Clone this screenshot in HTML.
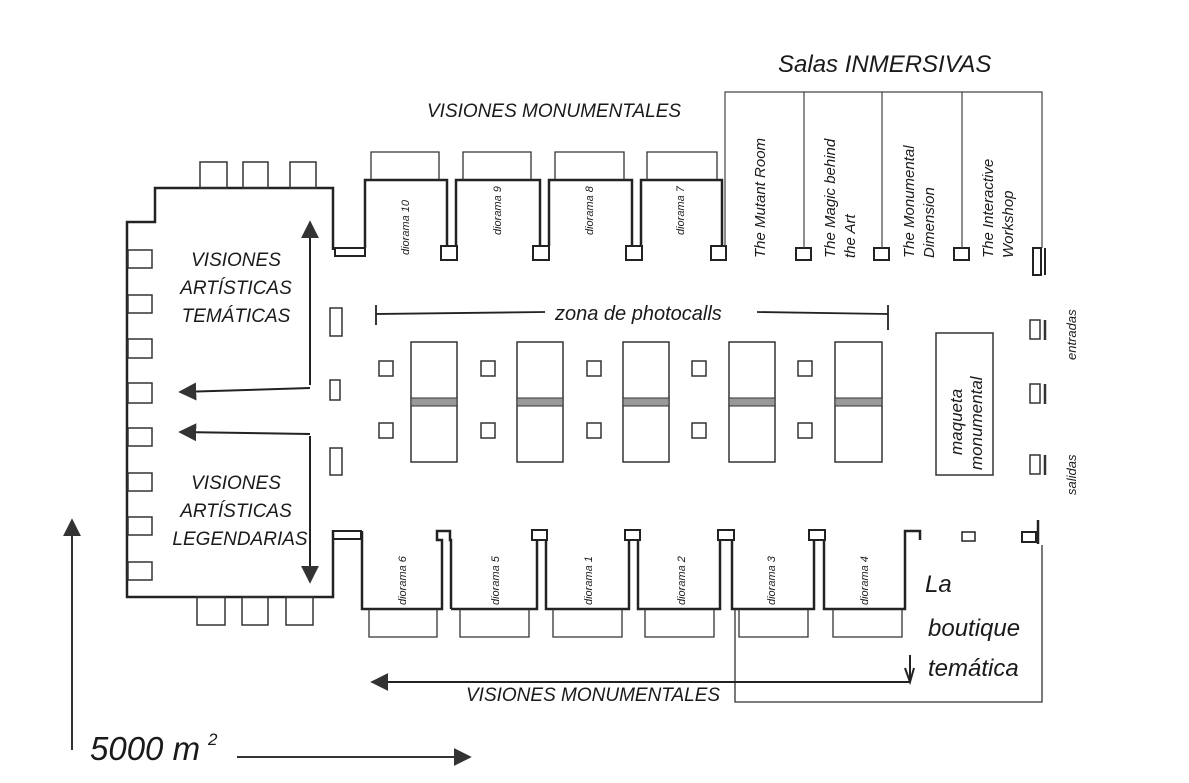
<!DOCTYPE html>
<html><head><meta charset="utf-8"><style>
html,body{margin:0;padding:0;background:#fff;}
svg{display:block;}
text{font-family:"Liberation Sans",sans-serif;font-style:italic;fill:#1a1a1a;}
</style></head><body>
<svg width="1189" height="783" viewBox="0 0 1189 783" xmlns="http://www.w3.org/2000/svg">
<defs>
<marker id="ah" viewBox="0 0 10 10" refX="9" refY="5" markerWidth="9" markerHeight="9" orient="auto-start-reverse"><path d="M0,0 L10,5 L0,10 Z" fill="#333"/></marker>
</defs>
<g fill="none" stroke="#222" stroke-width="2.5">
<path d="M333,250 V188 H155 V222 H127 V597 H333 V530"/>
</g>
<g fill="none" stroke="#333" stroke-width="1.5">
<rect x="200" y="162" width="27" height="26"/><rect x="243" y="162" width="25" height="26"/><rect x="290" y="162" width="26" height="26"/>
<rect x="197" y="597" width="28" height="28"/><rect x="242" y="597" width="26" height="28"/><rect x="286" y="597" width="27" height="28"/>
<rect x="128" y="250" width="24" height="18"/><rect x="128" y="295" width="24" height="18"/><rect x="128" y="339" width="24" height="19"/><rect x="128" y="383" width="24" height="20"/><rect x="128" y="428" width="24" height="18"/><rect x="128" y="473" width="24" height="18"/><rect x="128" y="517" width="24" height="18"/><rect x="128" y="562" width="24" height="18"/>
<rect x="330" y="308" width="12" height="28"/><rect x="330" y="380" width="10" height="20"/><rect x="330" y="448" width="12" height="27"/>
</g>
<g fill="none" stroke="#222" stroke-width="2.5">
<rect x="335" y="248" width="30" height="8" stroke-width="2"/>
<path d="M365,248 V180 H447 V246"/>
<path d="M456,246 V180 H540 V246"/>
<path d="M549,246 V180 H632 V246"/>
<path d="M641,246 V180 H722 V246"/>
</g>
<g fill="none" stroke="#333" stroke-width="1.3">
<path d="M371,180 V152 H439 V180"/><path d="M463,180 V152 H531 V180"/><path d="M555,180 V152 H624 V180"/><path d="M647,180 V152 H717 V180"/>
</g>
<g fill="none" stroke="#222" stroke-width="2">
<rect x="441" y="246" width="16" height="14"/><rect x="533" y="246" width="16" height="14"/><rect x="626" y="246" width="16" height="14"/><rect x="711" y="246" width="15" height="14"/>
<rect x="796" y="248" width="15" height="12"/><rect x="874" y="248" width="15" height="12"/><rect x="954" y="248" width="15" height="12"/>
<rect x="1033" y="248" width="8" height="27"/><line x1="1045" y1="248" x2="1045" y2="275"/>
</g>
<g fill="none" stroke="#444" stroke-width="1.2">
<path d="M725,246 V92 H1042 V248"/>
<line x1="804" y1="92" x2="804" y2="248"/><line x1="882" y1="92" x2="882" y2="248"/><line x1="962" y1="92" x2="962" y2="248"/>
</g>
<g font-size="15">
<text transform="translate(765,258) rotate(-90)">The Mutant Room</text>
<text transform="translate(835,258) rotate(-90)">The Magic behind</text>
<text transform="translate(855,258) rotate(-90)">the Art</text>
<text transform="translate(914,258) rotate(-90)">The Monumental</text>
<text transform="translate(934,258) rotate(-90)">Dimension</text>
<text transform="translate(993,258) rotate(-90)">The Interactive</text>
<text transform="translate(1013,258) rotate(-90)">Workshop</text>
</g>
<text x="778" y="72" font-size="24">Salas INMERSIVAS</text>
<text x="427" y="117" font-size="19">VISIONES MONUMENTALES</text>
<g font-size="11">
<text transform="translate(409,255) rotate(-90)">diorama 10</text>
<text transform="translate(501,235) rotate(-90)">diorama 9</text>
<text transform="translate(593,235) rotate(-90)">diorama 8</text>
<text transform="translate(684,235) rotate(-90)">diorama 7</text>
<text transform="translate(406,605) rotate(-90)">diorama 6</text>
<text transform="translate(499,605) rotate(-90)">diorama 5</text>
<text transform="translate(592,605) rotate(-90)">diorama 1</text>
<text transform="translate(685,605) rotate(-90)">diorama 2</text>
<text transform="translate(775,605) rotate(-90)">diorama 3</text>
<text transform="translate(868,605) rotate(-90)">diorama 4</text>
</g>
<g stroke="#222" stroke-width="1.8" fill="none">
<line x1="376" y1="314" x2="545" y2="312"/><line x1="376" y1="305" x2="376" y2="325"/>
<line x1="757" y1="312" x2="888" y2="314"/><line x1="888" y1="305" x2="888" y2="330"/>
</g>
<text x="555" y="320" font-size="20">zona de photocalls</text>
<g fill="none" stroke="#333" stroke-width="1.5">
<rect x="411" y="342" width="46" height="120"/><rect x="517" y="342" width="46" height="120"/><rect x="623" y="342" width="46" height="120"/><rect x="729" y="342" width="46" height="120"/><rect x="835" y="342" width="47" height="120"/>
<rect x="379" y="361" width="14" height="15"/><rect x="379" y="423" width="14" height="15"/>
<rect x="481" y="361" width="14" height="15"/><rect x="481" y="423" width="14" height="15"/>
<rect x="587" y="361" width="14" height="15"/><rect x="587" y="423" width="14" height="15"/>
<rect x="692" y="361" width="14" height="15"/><rect x="692" y="423" width="14" height="15"/>
<rect x="798" y="361" width="14" height="15"/><rect x="798" y="423" width="14" height="15"/>
</g>
<g fill="#999" stroke="#333" stroke-width="1">
<rect x="411" y="398" width="46" height="8"/><rect x="517" y="398" width="46" height="8"/><rect x="623" y="398" width="46" height="8"/><rect x="729" y="398" width="46" height="8"/><rect x="835" y="398" width="47" height="8"/>
</g>
<rect x="936" y="333" width="57" height="142" fill="none" stroke="#333" stroke-width="1.5"/>
<text transform="translate(962,455) rotate(-90)" font-size="17">maqueta</text>
<text transform="translate(982,470) rotate(-90)" font-size="17">monumental</text>
<g fill="none" stroke="#333" stroke-width="1.5">
<rect x="1030" y="320" width="10" height="19"/><line x1="1045" y1="320" x2="1045" y2="340" stroke-width="2.5"/>
<rect x="1030" y="384" width="10" height="19"/><line x1="1045" y1="384" x2="1045" y2="404" stroke-width="2.5"/>
<rect x="1030" y="455" width="10" height="19"/><line x1="1045" y1="455" x2="1045" y2="475" stroke-width="2.5"/>
</g>
<text transform="translate(1076,360) rotate(-90)" font-size="13">entradas</text>
<text transform="translate(1076,495) rotate(-90)" font-size="13">salidas</text>
<g fill="none" stroke="#222" stroke-width="2.5">
<rect x="333" y="531" width="28" height="8" stroke-width="2"/>
<path d="M362,531 V609 H442 V540 H437 V531 H450 V540 H451 V609"/>
<path d="M451,609 H537 V540"/>
<path d="M546,540 V609 H629 V540"/>
<path d="M638,540 V609 H720 V540"/>
<path d="M732,540 V609 H814 V540"/>
<path d="M824,540 V609 H905 V531 H920 V540"/>
<rect x="532" y="530" width="15" height="10" stroke-width="2"/><rect x="625" y="530" width="15" height="10" stroke-width="2"/><rect x="718" y="530" width="16" height="10" stroke-width="2"/><rect x="809" y="530" width="16" height="10" stroke-width="2"/>
<rect x="962" y="532" width="13" height="9" stroke-width="1.5"/><rect x="1022" y="532" width="14" height="10" stroke-width="2"/>
<line x1="1038" y1="520" x2="1038" y2="544"/>
</g>
<g fill="none" stroke="#333" stroke-width="1.3">
<path d="M369,609 V637 H437 V609"/><path d="M460,609 V637 H529 V609"/><path d="M553,609 V637 H622 V609"/><path d="M645,609 V637 H714 V609"/><path d="M739,609 V637 H808 V609"/><path d="M833,609 V637 H902 V609"/>
<path d="M735,609 V702 H1042 V545"/>
</g>
<g stroke="#222" stroke-width="2" fill="none">
<line x1="372" y1="682" x2="910" y2="682" marker-start="url(#ah)"/>
<line x1="910" y1="655" x2="910" y2="682"/><path d="M905,668 L910,682 L914,668"/>
</g>
<text x="466" y="701" font-size="19">VISIONES MONUMENTALES</text>
<g font-size="24">
<text x="925" y="592">La</text>
<text x="928" y="636">boutique</text>
<text x="928" y="676">temática</text>
</g>
<g stroke="#222" stroke-width="2" fill="none">
<polyline points="310,385 310,222" marker-end="url(#ah)"/>
<polyline points="310,388 180,392" marker-end="url(#ah)"/>
<polyline points="310,434 180,432" marker-end="url(#ah)"/>
<polyline points="310,436 310,582" marker-end="url(#ah)"/>
</g>
<g font-size="19" text-anchor="middle">
<text x="236" y="266">VISIONES</text><text x="236" y="294">ARTÍSTICAS</text><text x="236" y="322">TEMÁTICAS</text>
<text x="236" y="489">VISIONES</text><text x="236" y="517">ARTÍSTICAS</text><text x="240" y="545">LEGENDARIAS</text>
</g>
<g stroke="#333" stroke-width="2" fill="none">
<line x1="72" y1="750" x2="72" y2="520" marker-end="url(#ah)"/>
<line x1="237" y1="757" x2="470" y2="757" marker-end="url(#ah)"/>
</g>
<text x="90" y="760" font-size="33">5000 m</text>
<text x="208" y="745" font-size="17">2</text>
</svg>
</body></html>
